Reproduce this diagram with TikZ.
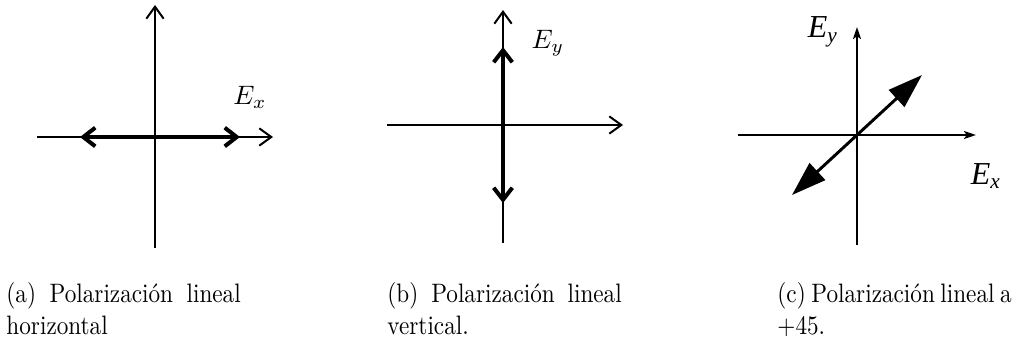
\documentclass[tikz,border=0pt]{standalone}
\usepackage{amsmath}
\usepackage{fontspec}
\newfontfamily\timesfont{Liberation Serif}
\usetikzlibrary{arrows.meta}

\begin{document}
\begin{tikzpicture}[x=0.375pt,y=-0.375pt, every node/.style={font=\normalsize},
  axis/.style={line width=0.75pt},
  openaxis/.style={axis,-{Straight Barb[length=4.5pt,width=6.5pt]}},
  field/.style={line width=1.5pt,{Straight Barb[length=4.5pt,width=7pt]}-{Straight Barb[length=4.5pt,width=7pt]}},
  tipaxis/.style={axis,-{Stealth[length=4.5pt,width=3pt,inset=1pt]}},
  bigfield/.style={line width=1.1pt,{Triangle[length=13pt,width=8.5pt]}-{Triangle[length=13pt,width=8.5pt]}},
  caption/.style={anchor=north west,transform shape,xscale=0.87,text width=101pt,
    align=justify,inner sep=0pt,execute at begin node={\hyphenpenalty=10000}}]
  \useasboundingbox (0,0) rectangle (1016,347);

  % (a) horizontal
  \coordinate (aL) at (37,137);
  \coordinate (aR) at (273,137);
  \coordinate (aT) at (155,5);
  \coordinate (aB) at (155,248);
  \coordinate (aF1) at (80,137);
  \coordinate (aF2) at (240,137);
  \draw[openaxis] (aL) -- (aR);
  \draw[openaxis] (aB) -- (aT);
  \draw[field] (aF1) -- (aF2);
  \node (aEx) at (250,97) {$E_x$};

  % (b) vertical
  \coordinate (bL) at (387,125);
  \coordinate (bR) at (623,125);
  \coordinate (bT) at (503,10);
  \coordinate (bB) at (503,243);
  \coordinate (bF1) at (503,203);
  \coordinate (bF2) at (503,47);
  \draw[openaxis] (bL) -- (bR);
  \draw[openaxis] (bB) -- (bT);
  \draw[field] (bF1) -- (bF2);
  \node (bEy) at (548,43) {$E_y$};

  % (c) +45
  \coordinate (cO) at (857,135);
  \coordinate (cL) at (738,135);
  \coordinate (cR) at (976,135);
  \coordinate (cT) at (857,27);
  \coordinate (cB) at (857,245);
  \coordinate (cF1) at (792,195);
  \coordinate (cF2) at (922,75);
  \draw[tipaxis] (cL) -- (cR);
  \draw[tipaxis] (cB) -- (cT);
  \draw[bigfield] (cF1) -- (cF2);
  \node (cEy) at (823,32) {\timesfont\itshape\large E\textsubscript{y}};
  \node (cEx) at (986,176) {\timesfont\itshape\large E\textsubscript{x}};

  % captions
  \node[caption] (capa) at (6,282) {(a) Polarización lineal horizontal};
  \node[caption] (capb) at (387,282) {(b) Polarización lineal vertical.};
  \node[caption] (capc) at (777,282) {(c) Polarización lineal a +45.};
\end{tikzpicture}
\end{document}
